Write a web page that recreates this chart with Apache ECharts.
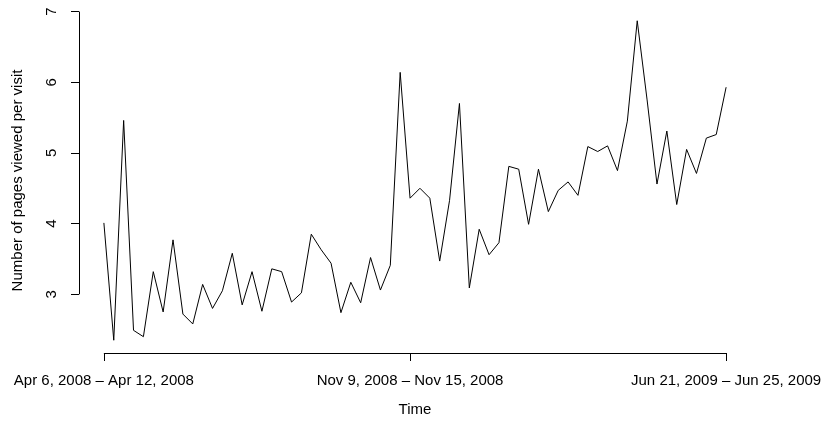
<!DOCTYPE html>
<html>
<head>
<meta charset="utf-8">
<script src="https://cdn.jsdelivr.net/npm/echarts@6/dist/echarts.min.js"></script>
<style>
html,body{margin:0;padding:0;background:#fff;}
#chart{width:823px;height:423px;}
</style>
</head>
<body>
<div id="chart"></div>
<script>
// Weekly values: Number of pages viewed per visit (Apr 6, 2008 .. Jun 21, 2009)
const pagesPerVisit = [
  4.01, 2.35, 5.46, 2.49, 2.40, 3.32, 2.75, 3.77, 2.72, 2.58,
  3.14, 2.80, 3.05, 3.58, 2.85, 3.32, 2.76, 3.36, 3.32, 2.89,
  3.02, 3.85, 3.63, 3.44, 2.74, 3.17, 2.88, 3.52, 3.06, 3.41,
  6.14, 4.36, 4.50, 4.36, 3.47, 4.33, 5.70, 3.09, 3.92, 3.56,
  3.73, 4.81, 4.77, 3.99, 4.77, 4.17, 4.47, 4.59, 4.40, 5.09,
  5.02, 5.10, 4.75, 5.45, 6.87, 5.75, 4.56, 5.31, 4.27, 5.05,
  4.71, 5.21, 5.26, 5.93
];
const xTickIndex = [0, 31, 63];
const xTickLabels = [
  "Apr 6, 2008 \u2013 Apr 12, 2008",
  "Nov 9, 2008 \u2013 Nov 15, 2008",
  "Jun 21, 2009 \u2013 Jun 25, 2009"
];
const yTicks = [3, 4, 5, 6, 7];
const xTitle = "Time";
const yTitle = "Number of pages viewed per visit";

const FONT = "'Liberation Sans', Arial, Helvetica, sans-serif";
const n = pagesPerVisit.length;
const dMin = Math.min(...pagesPerVisit), dMax = Math.max(...pagesPerVisit);
const yMin = dMin - 0.04 * (dMax - dMin), yMax = dMax + 0.04 * (dMax - dMin);
const xMin = -0.04 * (n - 1), xMax = (n - 1) * 1.04;

const chart = echarts.init(document.getElementById('chart'), null, {renderer: 'canvas'});
chart.setOption({
  animation: false,
  backgroundColor: '#fff',
  grid: {left: 79, right: 72, top: 8, bottom: 70, containLabel: false, outerBoundsMode: 'none'},
  xAxis: {
    type: 'value', min: xMin, max: xMax,
    name: xTitle, nameLocation: 'middle', nameGap: 49,
    nameTextStyle: {fontFamily: FONT, fontSize: 15, color: '#000'},
    axisLine: {show: false, onZero: false},
    splitLine: {show: false},
    axisTick: {show: true, inside: false, length: 8, customValues: xTickIndex, lineStyle: {color: '#000', width: 1}},
    axisLabel: {
      show: true, margin: 20, customValues: xTickIndex,
      fontFamily: FONT, fontSize: 15, color: '#000',
      formatter: v => xTickLabels[xTickIndex.indexOf(Math.round(v))] || ''
    }
  },
  yAxis: {
    type: 'value', min: yMin, max: yMax,
    name: yTitle, nameLocation: 'middle', nameGap: 54, nameRotate: 90,
    nameTextStyle: {fontFamily: FONT, fontSize: 15, color: '#000'},
    axisLine: {show: false, onZero: false},
    splitLine: {show: false},
    axisTick: {show: true, inside: false, length: 8, customValues: yTicks, lineStyle: {color: '#000', width: 1}},
    axisLabel: {
      show: true, margin: 20, rotate: 90, customValues: yTicks,
      fontFamily: FONT, fontSize: 15, color: '#000'
    }
  },
  series: [{
    type: 'line',
    data: pagesPerVisit.map((v, i) => [i, v]),
    symbol: 'none',
    clip: false,
    lineStyle: {color: '#000', width: 1},
    silent: true,
    markLine: {
      silent: true,
      symbol: ['none', 'none'],
      label: {show: false},
      lineStyle: {color: '#000', width: 1, type: 'solid'},
      emphasis: {disabled: true},
      data: [
        [{coord: [xTickIndex[0], yMin]}, {coord: [xTickIndex[xTickIndex.length - 1], yMin]}],
        [{coord: [xMin, yTicks[0]]}, {coord: [xMin, yTicks[yTicks.length - 1]]}]
      ]
    }
  }]
});
</script>
</body>
</html>
